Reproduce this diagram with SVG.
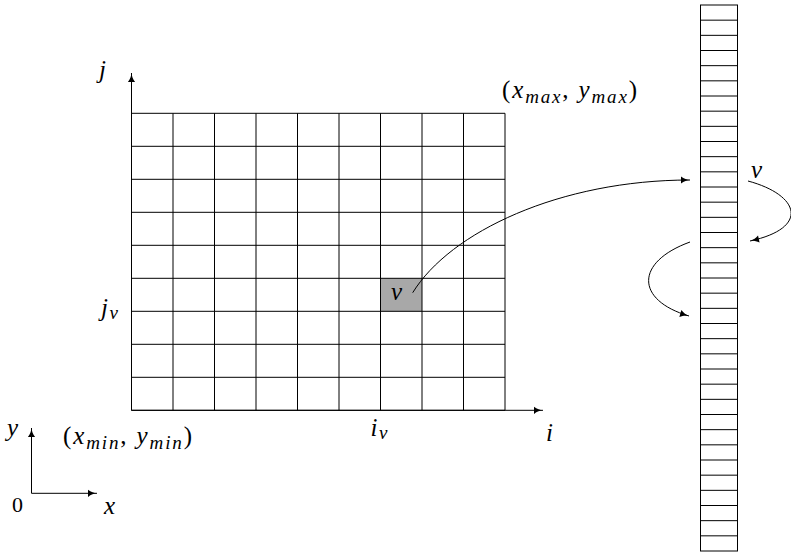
<svg xmlns="http://www.w3.org/2000/svg" width="791" height="553" viewBox="0 0 791 553" font-family="Liberation Serif">
<rect width="791" height="553" fill="#fff"/>
<defs>
  <path id="ah" d="M-9,-3.6 C-6,-1.2 -3,-0.3 0,0 C-3,0.3 -6,1.2 -9,3.6 Z" fill="#000" stroke="none"/>
</defs>

<g id="cell-v">
  <rect x="380.5" y="278.3" width="41.5" height="33" fill="#a8a8a8"/>
  <text font-family="Liberation Serif" font-size="25" font-style="italic" x="391" y="300">v</text>
</g>

<g id="grid" fill="none" stroke="#000" stroke-width="1">
  <path d="M131.5,113.3V410.3M173,113.3V410.3M214.5,113.3V410.3M256,113.3V410.3M297.5,113.3V410.3M339,113.3V410.3M380.5,113.3V410.3M422,113.3V410.3M463.5,113.3V410.3M505,113.3V410.3
  M131.5,113.3H505M131.5,146.3H505M131.5,179.3H505M131.5,212.3H505M131.5,245.3H505M131.5,278.3H505M131.5,311.3H505M131.5,344.3H505M131.5,377.3H505M131.5,410.3H505"/>
</g>

<g id="axes">
  <path d="M131.5,410.3V73M131.5,410.3H543" fill="none" stroke="#000" stroke-width="1"/>
  <use href="#ah" transform="translate(131.5,73) rotate(-90)"/>
  <use href="#ah" transform="translate(543,410.3)"/>
  <text font-family="Liberation Serif" font-size="25" font-style="italic" x="99" y="78">j</text>
  <text font-family="Liberation Serif" font-size="25" font-style="italic" x="546" y="441">i</text>
  <text font-family="Liberation Serif" font-size="25" font-style="italic" x="101" y="316">j<tspan font-size="19" x="109.5" dy="3">v</tspan></text>
  <text font-family="Liberation Serif" font-size="25" font-style="italic" x="370.5" y="436">i<tspan font-size="19" x="379" dy="3">v</tspan></text>
  <text font-family="Liberation Serif" font-size="25" x="502" y="98" textLength="135" lengthAdjust="spacing">(<tspan font-style="italic">x</tspan><tspan font-style="italic" font-size="19" dy="5">max</tspan><tspan dy="-5">, </tspan><tspan font-style="italic">y</tspan><tspan font-style="italic" font-size="19" dy="5">max</tspan><tspan dy="-5">)</tspan></text>
  <text font-family="Liberation Serif" font-size="25" x="63" y="444" textLength="129" lengthAdjust="spacing">(<tspan font-style="italic">x</tspan><tspan font-style="italic" font-size="19" dy="5">min</tspan><tspan dy="-5">, </tspan><tspan font-style="italic">y</tspan><tspan font-style="italic" font-size="19" dy="5">min</tspan><tspan dy="-5">)</tspan></text>
</g>

<g id="frame">
  <path d="M31.5,493.3V428M31.5,493.3H97" fill="none" stroke="#000" stroke-width="1"/>
  <use href="#ah" transform="translate(31.5,428) rotate(-90)"/>
  <use href="#ah" transform="translate(97,493.3)"/>
  <text font-family="Liberation Serif" font-size="25" font-style="italic" x="7" y="436">y</text>
  <text font-family="Liberation Serif" font-size="22" x="12" y="512">0</text>
  <text font-family="Liberation Serif" font-size="25" font-style="italic" x="104" y="514">x</text>
</g>

<g id="array">
  <g fill="none" stroke="#000" stroke-width="1">
    <rect x="700.5" y="5" width="37" height="546"/>
    <path d="M700.5,20.17h37M700.5,35.33h37M700.5,50.5h37M700.5,65.67h37M700.5,80.83h37M700.5,96h37M700.5,111.17h37M700.5,126.33h37M700.5,141.5h37M700.5,156.67h37M700.5,171.83h37M700.5,187h37M700.5,202.17h37M700.5,217.33h37M700.5,232.5h37M700.5,247.67h37M700.5,262.83h37M700.5,278h37M700.5,293.17h37M700.5,308.33h37M700.5,323.5h37M700.5,338.67h37M700.5,353.83h37M700.5,369h37M700.5,384.17h37M700.5,399.33h37M700.5,414.5h37M700.5,429.67h37M700.5,444.83h37M700.5,460h37M700.5,475.17h37M700.5,490.33h37M700.5,505.5h37M700.5,520.67h37M700.5,535.83h37"/>
  </g>
  <text font-family="Liberation Serif" font-size="25" font-style="italic" x="751" y="178">v</text>
</g>

<g id="connectors">
  <g fill="none" stroke="#000" stroke-width="1">
    <path d="M412.7,292.7C450,232 560,180 690,180"/>
    <path d="M748,181C800,195 810,228 750,241"/>
    <path d="M690,242C635,262 635,300 689,316"/>
  </g>
  <use href="#ah" transform="translate(690,180)"/>
  <use href="#ah" transform="translate(750,241) rotate(167.8)"/>
  <use href="#ah" transform="translate(689,316) rotate(16.5)"/>
</g>
</svg>
